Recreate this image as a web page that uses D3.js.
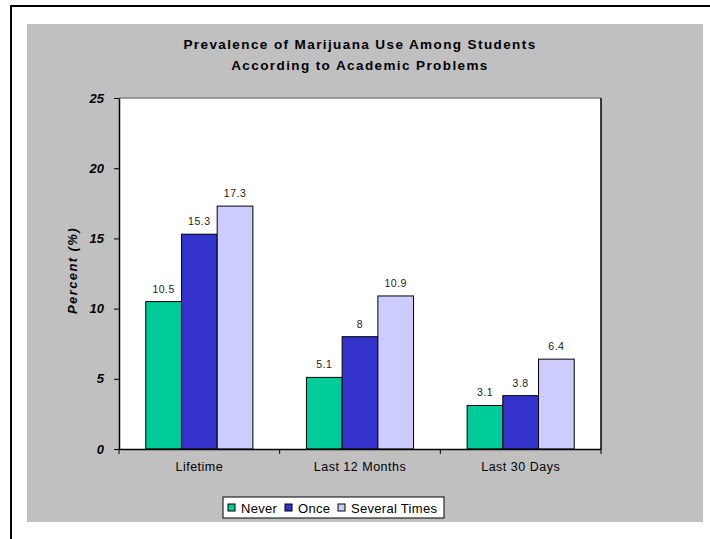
<!DOCTYPE html>
<html>
<head>
<meta charset="utf-8">
<script src="https://cdn.jsdelivr.net/npm/d3@7"></script>
<style>
  html, body { margin: 0; padding: 0; background: #ffffff; }
  svg { display: block; font-family: "Liberation Sans", Arial, sans-serif; }
</style>
</head>
<body>
<svg id="chart" width="710" height="539"></svg>
<script>
// Chart data
const categories = ["Lifetime", "Last 12 Months", "Last 30 Days"];
const seriesNames = ["Never", "Once", "Several Times"];
const never = [10.5, 5.1, 3.1];
const once = [15.3, 8, 3.8];
const severalTimes = [17.3, 10.9, 6.4];
const yTicks = [0, 5, 10, 15, 20, 25];
const seriesColors = ["#00CC99", "#3333CC", "#CCCCFF"];
const titleLines = ["Prevalence of Marijuana Use Among Students", "According to Academic Problems"];

const seriesValues = [never, once, severalTimes];
const rows = categories.map((c, i) => ({
  category: c,
  values: seriesNames.map((s, j) => ({ series: s, value: seriesValues[j][i] }))
}));

const svg = d3.select("#chart");

// Outer frame lines (top and left)
svg.append("line").attr("x1", 11).attr("x2", 710).attr("y1", 6).attr("y2", 6)
  .attr("stroke", "#000").attr("stroke-width", 2);
svg.append("line").attr("x1", 11).attr("x2", 11).attr("y1", 5).attr("y2", 539)
  .attr("stroke", "#000").attr("stroke-width", 2);

// Chart area background
svg.append("rect").attr("x", 27).attr("y", 24).attr("width", 676).attr("height", 498)
  .attr("fill", "#C0C0C0");

const plot = { left: 119, right: 601, top: 98, bottom: 449 };

// Title
const title = svg.append("text")
  .attr("text-anchor", "middle")
  .attr("font-weight", "bold")
  .attr("font-size", 13.5)
  .attr("letter-spacing", 1.4)
  .attr("fill", "#000");
titleLines.forEach((t, i) => {
  title.append("tspan").attr("x", 360).attr("y", 49 + i * 21).text(t);
});

// Plot area
svg.append("rect")
  .attr("x", plot.left).attr("y", plot.top)
  .attr("width", plot.right - plot.left).attr("height", plot.bottom - plot.top)
  .attr("fill", "#ffffff");
svg.append("line").attr("x1", plot.left).attr("x2", plot.right)
  .attr("y1", plot.top).attr("y2", plot.top)
  .attr("stroke", "#808080").attr("stroke-width", 1.5);
svg.append("line").attr("x1", plot.right).attr("x2", plot.right)
  .attr("y1", plot.top).attr("y2", plot.bottom)
  .attr("stroke", "#000").attr("stroke-width", 1.5);

// Scales
const x0 = d3.scaleBand().domain(categories).range([plot.left, plot.right]).paddingInner(0).paddingOuter(0);
const x1 = d3.scaleBand().domain(seriesNames).range([0, x0.bandwidth()]).paddingInner(0).paddingOuter(0.75);
const y = d3.scaleLinear().domain([0, 25]).range([plot.bottom, plot.top]);
const color = d3.scaleOrdinal().domain(seriesNames).range(seriesColors);

// Bars
const groups = svg.append("g").selectAll("g").data(rows).join("g")
  .attr("transform", d => `translate(${x0(d.category)},0)`);

groups.selectAll("rect").data(d => d.values).join("rect")
  .attr("x", d => x1(d.series))
  .attr("y", d => y(d.value))
  .attr("width", x1.bandwidth())
  .attr("height", d => y(0) - y(d.value))
  .attr("fill", d => color(d.series))
  .attr("stroke", "#000")
  .attr("stroke-width", 1);

// Value labels
groups.selectAll("text.val").data(d => d.values).join("text")
  .attr("class", "val")
  .attr("x", d => x1(d.series) + x1.bandwidth() / 2)
  .attr("y", d => y(d.value) - 9)
  .attr("text-anchor", "middle")
  .attr("font-size", 10.5)
  .attr("letter-spacing", 0.5)
  .attr("fill", "#222")
  .text(d => d.value);

// Y axis
const yAxis = svg.append("g")
  .attr("transform", `translate(${plot.left},0)`)
  .call(d3.axisLeft(y).tickValues(yTicks).tickSize(5).tickPadding(10).tickSizeOuter(0));
yAxis.select(".domain").attr("stroke", "#000").attr("stroke-width", 1.5);
yAxis.selectAll(".tick line").attr("stroke", "#000");
yAxis.selectAll(".tick text")
  .attr("font-size", 13).attr("font-weight", "bold").attr("font-style", "italic")
  .attr("font-family", "Liberation Sans, Arial, sans-serif")
  .attr("fill", "#000");

// X axis
const xAxis = svg.append("g")
  .attr("transform", `translate(0,${plot.bottom})`)
  .call(d3.axisBottom(x0).tickSize(0).tickPadding(13));
xAxis.select(".domain").attr("stroke", "#000").attr("stroke-width", 1.5);
xAxis.selectAll(".tick text")
  .attr("font-size", 12.5).attr("letter-spacing", 0.5)
  .attr("font-family", "Liberation Sans, Arial, sans-serif")
  .attr("fill", "#000");
// Category boundary ticks
const boundaries = categories.map(c => x0(c)).concat([x0.range()[1]]);
xAxis.selectAll("line.bound").data(boundaries).join("line")
  .attr("class", "bound")
  .attr("x1", d => d).attr("x2", d => d)
  .attr("y1", 0).attr("y2", 5)
  .attr("stroke", "#000");

// Y axis title
svg.append("text")
  .attr("transform", `translate(77,${(plot.top + plot.bottom) / 2 - 3}) rotate(-90)`)
  .attr("text-anchor", "middle")
  .attr("font-size", 13).attr("font-weight", "bold").attr("font-style", "italic")
  .attr("letter-spacing", 1.4)
  .text("Percent (%)");

// Legend
const legend = svg.append("g").attr("transform", "translate(223,497)");
legend.append("rect").attr("width", 221).attr("height", 21)
  .attr("fill", "#fff").attr("stroke", "#000").attr("stroke-width", 1);
const itemX = [5, 62, 115];
const item = legend.selectAll("g.item").data(seriesNames).join("g")
  .attr("class", "item")
  .attr("transform", (d, i) => `translate(${itemX[i]},0)`);
item.append("rect").attr("x", 0).attr("y", 7).attr("width", 7).attr("height", 7)
  .attr("fill", d => color(d)).attr("stroke", "#000").attr("stroke-width", 1);
item.append("text").attr("x", 13).attr("y", 15.5)
  .attr("font-size", 13).attr("letter-spacing", 0.3)
  .attr("fill", "#000")
  .text(d => d);
</script>
</body>
</html>
